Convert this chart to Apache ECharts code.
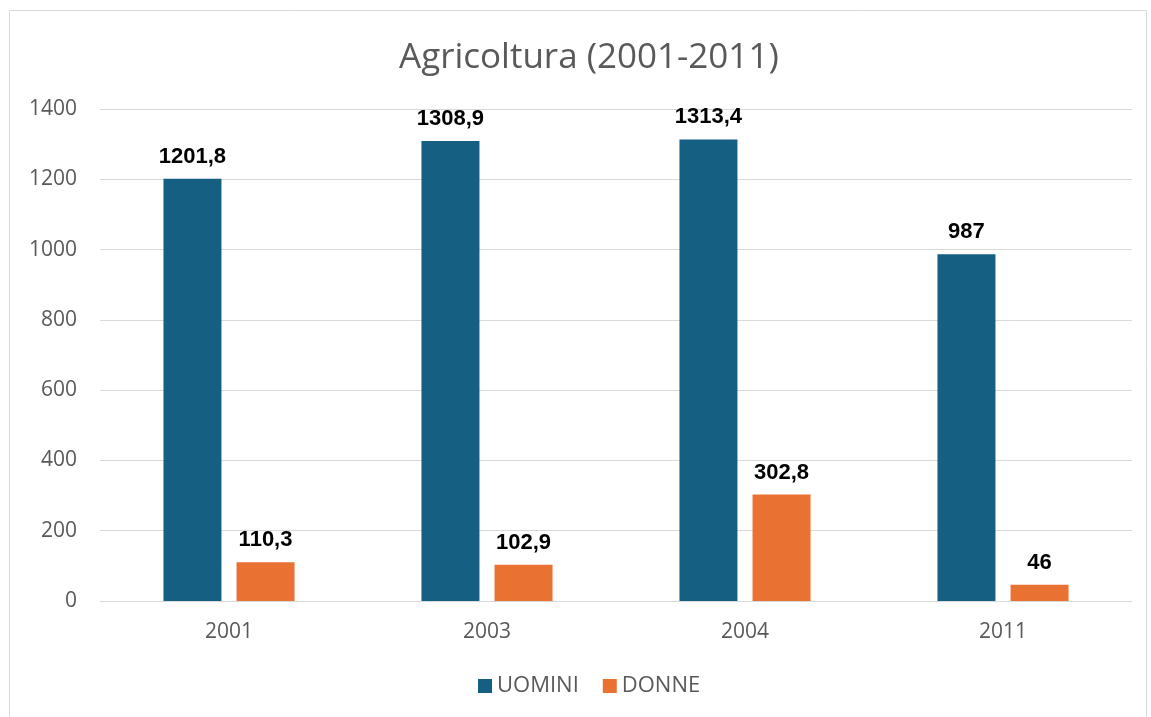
<!DOCTYPE html>
<html><head><meta charset="utf-8">
<script src="https://cdn.jsdelivr.net/npm/echarts@6/dist/echarts.min.js"></script>
<style>html,body{margin:0;padding:0;background:#fff}#c{width:1151px;height:717px}</style>
</head><body><div id="c"></div>
<script>
const categories = ['2001', '2003', '2004', '2011'];
const uomini = [1201.8, 1308.9, 1313.4, 987];
const donne = [110.3, 102.9, 302.8, 46];
const yTicks = {min: 0, max: 1400, interval: 200};

const fmt = p => String(p.value).replace('.', ',');
const chart = echarts.init(document.getElementById('c'));
chart.setOption({
  backgroundColor: '#fff',
  animation: false,
  textStyle: {fontFamily: 'Liberation Sans, Arial, sans-serif'},
  graphic: [{type: 'rect', shape: {x: 9.5, y: 10.5, width: 1137, height: 720}, style: {fill: 'none', stroke: '#d9d9d9', lineWidth: 1}, silent: true}],
  title: {text: 'Agricoltura (2001-2011)', left: 394, top: 36,
    textStyle: {fontFamily: 'Open Sans, sans-serif', fontWeight: 'normal', fontSize: 35, color: '#595959'}},
  legend: {bottom: 15, left: 473, itemWidth: 14, itemHeight: 14, itemGap: 24, icon: 'rect',
    textStyle: {fontFamily: 'Open Sans, sans-serif', fontSize: 22, color: '#595959', padding: [0, 0, 0, 0]},
    data: ['UOMINI', 'DONNE']},
  grid: {left: 100, right: 19, top: 109, bottom: 116, containLabel: false},
  xAxis: {type: 'category', data: categories,
    axisLine: {lineStyle: {color: '#d9d9d9', width: 1}}, axisTick: {show: false},
    axisLabel: {color: '#595959', fontSize: 21, margin: 21, fontFamily: 'Open Sans, sans-serif'}},
  yAxis: {type: 'value', min: yTicks.min, max: yTicks.max, interval: yTicks.interval,
    axisLine: {show: false}, axisTick: {show: false},
    splitLine: {lineStyle: {color: '#d9d9d9', width: 1}},
    axisLabel: {color: '#595959', fontSize: 21, margin: 23, fontFamily: 'Open Sans, sans-serif', formatter: v => String(v)}},
  series: [
    {name: 'UOMINI', type: 'bar', data: uomini, barWidth: 58, barGap: '26%',
      itemStyle: {color: '#156082'},
      label: {show: true, position: 'top', distance: 11, formatter: fmt, color: '#000', fontWeight: 'bold', fontSize: 22}},
    {name: 'DONNE', type: 'bar', data: donne, barWidth: 58,
      itemStyle: {color: '#E97132'},
      label: {show: true, position: 'top', distance: 11, formatter: fmt, color: '#000', fontWeight: 'bold', fontSize: 22}}
  ]
});
</script></body></html>
